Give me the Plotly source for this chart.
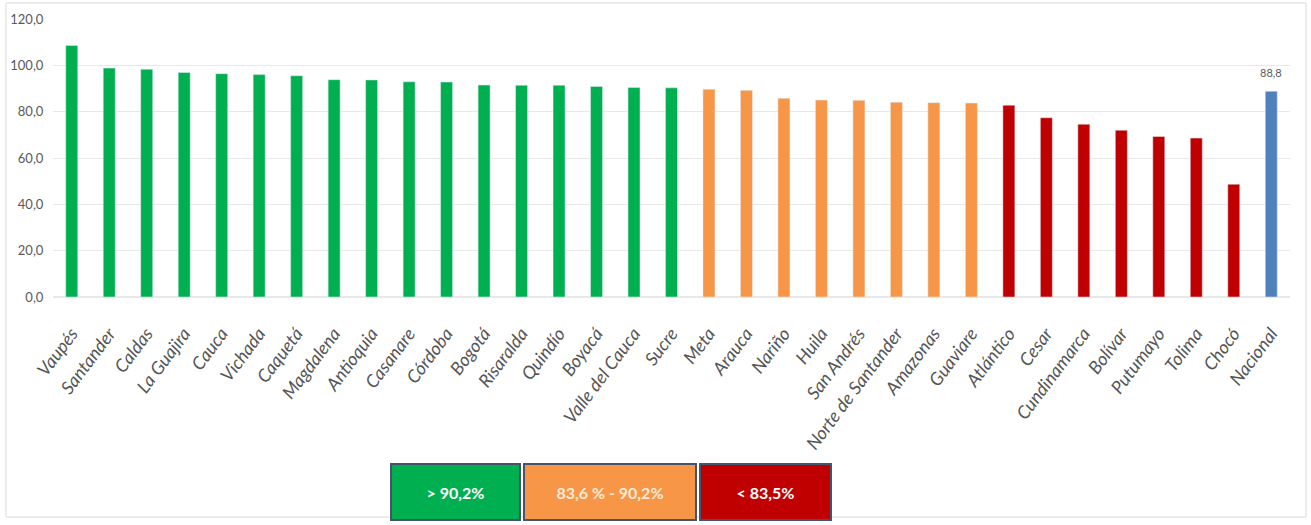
import plotly.graph_objects as go

departamentos = ["Vaupés", "Santander", "Caldas", "La Guajira", "Cauca", "Vichada", "Caquetá",
                 "Magdalena", "Antioquia", "Casanare", "Córdoba", "Bogotá", "Risaralda", "Quindío",
                 "Boyacá", "Valle del Cauca", "Sucre", "Meta", "Arauca", "Nariño", "Huila",
                 "San Andrés", "Norte de Santander", "Amazonas", "Guaviare", "Atlántico", "Cesar",
                 "Cundinamarca", "Bolívar", "Putumayo", "Tolima", "Chocó", "Nacional"]
valores = [108.6, 98.8, 98.3, 96.9, 96.4, 96.0, 95.5,
           93.8, 93.7, 92.9, 92.8, 91.5, 91.4, 91.4,
           90.9, 90.4, 90.3, 89.7, 89.2, 85.8, 85.0,
           84.9, 84.1, 83.9, 83.7, 82.8, 77.4,
           74.6, 72.0, 69.3, 68.6, 48.7, 88.8]
grupos = ["alto"] * 17 + ["medio"] * 8 + ["bajo"] * 7 + ["nacional"]
rangos = ["> 90,2%", "83,6 % - 90,2%", "< 83,5%"]
y_ticks = [0, 20, 40, 60, 80, 100, 120]

colores = {"alto": "#00B050", "medio": "#F79646", "bajo": "#C00000", "nacional": "#4F81BD"}
bar_colors = [colores[g] for g in grupos]

fig = go.Figure(go.Bar(
    x=departamentos, y=valores, marker_color=bar_colors, width=0.32,
))

W, H = 1311, 525
ml, mr, mt, mb = 53, 21, 19, 228
pw, ph = W - ml - mr, H - mt - mb

def px_x(px):
    return (px - ml) / pw

def px_y(py):
    return (H - mb - py) / ph

annotations = []
for d, v, g in zip(departamentos, valores, grupos):
    if g == "nacional":
        annotations.append(dict(x=d, y=v, xref="x", yref="y", text=f"{v:.1f}".replace(".", ","),
                                showarrow=False, yshift=19, font=dict(size=11, color="#595959", family="Lato")))

boxes = [(390, 521, "#00B050", "#FFFFFF"), (523, 697, "#F79646", "#FDEBD8"), (699, 832, "#C00000", "#FFFFFF")]
for (x0, x1, bg, fc), txt in zip(boxes, rangos):
    annotations.append(dict(
        x=px_x((x0 + x1) / 2), y=px_y(492), xref="paper", yref="paper",
        text=f"<b>{txt}</b>", showarrow=False, bgcolor=bg, bordercolor="#44546A", borderwidth=2,
        width=x1 - x0 - 6, height=52, font=dict(size=16, color=fc, family="Lato"),
        xanchor="center", yanchor="middle",
    ))

fig.update_layout(
    width=W, height=H, margin=dict(l=ml, r=mr, t=mt, b=mb, autoexpand=False),
    plot_bgcolor="white", paper_bgcolor="white", separators=",.",
    showlegend=False,
    annotations=annotations,
    shapes=[dict(type="rect", xref="paper", yref="paper",
                 x0=px_x(6), x1=px_x(1306), y0=px_y(517), y1=px_y(3),
                 line=dict(color="#D9D9D9", width=1), layer="below")],
    font=dict(family="Lato", color="#595959"),
)
fig.update_yaxes(range=[0, 120], tickvals=y_ticks, tickformat=".1f", showgrid=True, automargin=False,
                 gridcolor="#E8E8E8", gridwidth=1, zeroline=True, zerolinecolor="#E8E8E8",
                 tickfont=dict(size=13, color="#595959", family="Lato"), ticks="outside",
                 ticklen=6, tickcolor="rgba(0,0,0,0)")
fig.update_xaxes(tickangle=-53, automargin=False,
                 tickfont=dict(size=18, color="#555555", family="Lato", style="italic"),
                 showline=False, ticks="outside", ticklen=18, tickcolor="rgba(0,0,0,0)")

fig.write_html("out.html", config={"displayModeBar": False},
               post_script="document.body.style.margin='0';")
